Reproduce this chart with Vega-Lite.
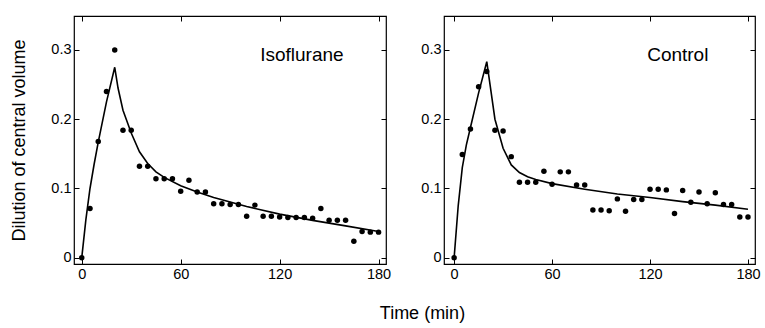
{
  "$schema": "https://vega.github.io/schema/vega-lite/v6.json",
  "background": "white",
  "padding": {"left": 10, "top": 14, "right": 4, "bottom": 5},
  "config": {
    "font": "Liberation Sans",
    "view": {"stroke": "black", "strokeWidth": 1.2},
    "axis": {"grid": false, "domain": false, "ticks": true, "tickColor": "black", "tickSize": -5, "labelFont": "Liberation Sans", "labelFontSize": 14.5, "labelColor": "black", "labelPadding": 8, "titleFont": "Liberation Sans", "titleFontSize": 18, "titleFontWeight": "normal", "titleColor": "black", "titlePadding": 22},
    "concat": {"spacing": 28}
  },
  "title": {"text": "Time (min)", "orient": "bottom", "fontSize": 18, "fontWeight": "normal", "font": "Liberation Sans", "color": "black", "anchor": "middle", "dx": 37, "offset": 24},
  "datasets": {
    "points": [
      {"panel": "Isoflurane", "t": 0, "v": 0}, {"panel": "Isoflurane", "t": 5, "v": 0.071}, {"panel": "Isoflurane", "t": 10, "v": 0.168}, {"panel": "Isoflurane", "t": 15, "v": 0.240}, {"panel": "Isoflurane", "t": 20, "v": 0.300}, {"panel": "Isoflurane", "t": 25, "v": 0.184}, {"panel": "Isoflurane", "t": 30, "v": 0.184}, {"panel": "Isoflurane", "t": 35, "v": 0.132}, {"panel": "Isoflurane", "t": 40, "v": 0.132}, {"panel": "Isoflurane", "t": 45, "v": 0.114}, {"panel": "Isoflurane", "t": 50, "v": 0.114}, {"panel": "Isoflurane", "t": 55, "v": 0.114}, {"panel": "Isoflurane", "t": 60, "v": 0.096}, {"panel": "Isoflurane", "t": 65, "v": 0.112}, {"panel": "Isoflurane", "t": 70, "v": 0.095}, {"panel": "Isoflurane", "t": 75, "v": 0.095}, {"panel": "Isoflurane", "t": 80, "v": 0.078}, {"panel": "Isoflurane", "t": 85, "v": 0.078}, {"panel": "Isoflurane", "t": 90, "v": 0.077}, {"panel": "Isoflurane", "t": 95, "v": 0.077}, {"panel": "Isoflurane", "t": 100, "v": 0.060}, {"panel": "Isoflurane", "t": 105, "v": 0.076}, {"panel": "Isoflurane", "t": 110, "v": 0.060}, {"panel": "Isoflurane", "t": 115, "v": 0.060}, {"panel": "Isoflurane", "t": 120, "v": 0.059}, {"panel": "Isoflurane", "t": 125, "v": 0.058}, {"panel": "Isoflurane", "t": 130, "v": 0.058}, {"panel": "Isoflurane", "t": 135, "v": 0.058}, {"panel": "Isoflurane", "t": 140, "v": 0.057}, {"panel": "Isoflurane", "t": 145, "v": 0.071}, {"panel": "Isoflurane", "t": 150, "v": 0.054}, {"panel": "Isoflurane", "t": 155, "v": 0.054}, {"panel": "Isoflurane", "t": 160, "v": 0.054}, {"panel": "Isoflurane", "t": 165, "v": 0.024}, {"panel": "Isoflurane", "t": 170, "v": 0.038}, {"panel": "Isoflurane", "t": 175, "v": 0.037}, {"panel": "Isoflurane", "t": 180, "v": 0.037},
      {"panel": "Control", "t": 0, "v": 0}, {"panel": "Control", "t": 5, "v": 0.149}, {"panel": "Control", "t": 10, "v": 0.186}, {"panel": "Control", "t": 15, "v": 0.247}, {"panel": "Control", "t": 20, "v": 0.269}, {"panel": "Control", "t": 25, "v": 0.184}, {"panel": "Control", "t": 30, "v": 0.183}, {"panel": "Control", "t": 35, "v": 0.146}, {"panel": "Control", "t": 40, "v": 0.109}, {"panel": "Control", "t": 45, "v": 0.109}, {"panel": "Control", "t": 50, "v": 0.109}, {"panel": "Control", "t": 55, "v": 0.125}, {"panel": "Control", "t": 60, "v": 0.106}, {"panel": "Control", "t": 65, "v": 0.124}, {"panel": "Control", "t": 70, "v": 0.124}, {"panel": "Control", "t": 75, "v": 0.105}, {"panel": "Control", "t": 80, "v": 0.105}, {"panel": "Control", "t": 85, "v": 0.069}, {"panel": "Control", "t": 90, "v": 0.069}, {"panel": "Control", "t": 95, "v": 0.068}, {"panel": "Control", "t": 100, "v": 0.085}, {"panel": "Control", "t": 105, "v": 0.067}, {"panel": "Control", "t": 110, "v": 0.084}, {"panel": "Control", "t": 115, "v": 0.084}, {"panel": "Control", "t": 120, "v": 0.099}, {"panel": "Control", "t": 125, "v": 0.099}, {"panel": "Control", "t": 130, "v": 0.098}, {"panel": "Control", "t": 135, "v": 0.064}, {"panel": "Control", "t": 140, "v": 0.097}, {"panel": "Control", "t": 145, "v": 0.080}, {"panel": "Control", "t": 150, "v": 0.095}, {"panel": "Control", "t": 155, "v": 0.078}, {"panel": "Control", "t": 160, "v": 0.094}, {"panel": "Control", "t": 165, "v": 0.077}, {"panel": "Control", "t": 170, "v": 0.077}, {"panel": "Control", "t": 175, "v": 0.059}, {"panel": "Control", "t": 180, "v": 0.059}
    ],
    "fit": [
      {"panel": "Isoflurane", "t": 0, "v": 0}, {"panel": "Isoflurane", "t": 2.5, "v": 0.055}, {"panel": "Isoflurane", "t": 5, "v": 0.1}, {"panel": "Isoflurane", "t": 7.5, "v": 0.135}, {"panel": "Isoflurane", "t": 10, "v": 0.167}, {"panel": "Isoflurane", "t": 15, "v": 0.225}, {"panel": "Isoflurane", "t": 20, "v": 0.275}, {"panel": "Isoflurane", "t": 22, "v": 0.245}, {"panel": "Isoflurane", "t": 25, "v": 0.213}, {"panel": "Isoflurane", "t": 30, "v": 0.18}, {"panel": "Isoflurane", "t": 35, "v": 0.153}, {"panel": "Isoflurane", "t": 40, "v": 0.136}, {"panel": "Isoflurane", "t": 45, "v": 0.124}, {"panel": "Isoflurane", "t": 50, "v": 0.116}, {"panel": "Isoflurane", "t": 60, "v": 0.104}, {"panel": "Isoflurane", "t": 70, "v": 0.095}, {"panel": "Isoflurane", "t": 80, "v": 0.087}, {"panel": "Isoflurane", "t": 100, "v": 0.074}, {"panel": "Isoflurane", "t": 120, "v": 0.063}, {"panel": "Isoflurane", "t": 140, "v": 0.054}, {"panel": "Isoflurane", "t": 160, "v": 0.046}, {"panel": "Isoflurane", "t": 180, "v": 0.038},
      {"panel": "Control", "t": 0, "v": 0}, {"panel": "Control", "t": 2.5, "v": 0.075}, {"panel": "Control", "t": 5, "v": 0.13}, {"panel": "Control", "t": 7.5, "v": 0.163}, {"panel": "Control", "t": 10, "v": 0.188}, {"panel": "Control", "t": 15, "v": 0.238}, {"panel": "Control", "t": 20, "v": 0.283}, {"panel": "Control", "t": 22, "v": 0.25}, {"panel": "Control", "t": 25, "v": 0.2}, {"panel": "Control", "t": 30, "v": 0.158}, {"panel": "Control", "t": 35, "v": 0.134}, {"panel": "Control", "t": 40, "v": 0.123}, {"panel": "Control", "t": 45, "v": 0.117}, {"panel": "Control", "t": 50, "v": 0.113}, {"panel": "Control", "t": 60, "v": 0.107}, {"panel": "Control", "t": 80, "v": 0.099}, {"panel": "Control", "t": 100, "v": 0.092}, {"panel": "Control", "t": 120, "v": 0.087}, {"panel": "Control", "t": 140, "v": 0.081}, {"panel": "Control", "t": 160, "v": 0.076}, {"panel": "Control", "t": 180, "v": 0.070}
    ],
    "labels": [
      {"panel": "Isoflurane", "t": 133.5, "v": 0.292},
      {"panel": "Control", "t": 137, "v": 0.292}
    ]
  },
  "hconcat": [
    {
      "width": 312, "height": 248,
      "layer": [
        {
          "data": {"name": "points"},
          "transform": [{"filter": "datum.panel == 'Isoflurane'"}],
          "mark": {"type": "circle", "size": 30, "color": "black", "opacity": 1},
          "encoding": {
            "x": {"field": "t", "type": "quantitative", "scale": {"domain": [-4.7, 184.5], "nice": false, "zero": false}, "axis": {"values": [0, 60, 120, 180], "title": null}},
            "y": {"field": "v", "type": "quantitative", "scale": {"domain": [-0.009, 0.349], "nice": false}, "axis": {"values": [0, 0.1, 0.2, 0.3], "format": "~g", "title": "Dilution of central volume"}}
          }
        },
        {
          "data": {"name": "fit"},
          "transform": [{"filter": "datum.panel == 'Isoflurane'"}],
          "mark": {"type": "line", "color": "black", "strokeWidth": 1.6},
          "encoding": {
            "x": {"field": "t", "type": "quantitative", "axis": {"orient": "top", "labels": false, "values": [0, 60, 120, 180], "title": null}},
            "y": {"field": "v", "type": "quantitative", "axis": {"orient": "right", "labels": false, "values": [0, 0.1, 0.2, 0.3], "title": null}}
          }
        },
        {
          "data": {"name": "labels"},
          "transform": [{"filter": "datum.panel == 'Isoflurane'"}],
          "mark": {"type": "text", "fontSize": 19, "font": "Liberation Sans", "color": "black"},
          "encoding": {
            "x": {"field": "t", "type": "quantitative", "axis": null},
            "y": {"field": "v", "type": "quantitative", "axis": null},
            "text": {"field": "panel"}
          }
        }
      ],
      "resolve": {"axis": {"x": "independent", "y": "independent"}}
    },
    {
      "width": 311, "height": 248,
      "layer": [
        {
          "data": {"name": "points"},
          "transform": [{"filter": "datum.panel == 'Control'"}],
          "mark": {"type": "circle", "size": 30, "color": "black", "opacity": 1},
          "encoding": {
            "x": {"field": "t", "type": "quantitative", "scale": {"domain": [-6.2, 184.3], "nice": false, "zero": false}, "axis": {"values": [0, 60, 120, 180], "title": null}},
            "y": {"field": "v", "type": "quantitative", "scale": {"domain": [-0.009, 0.349], "nice": false}, "axis": {"values": [0, 0.1, 0.2, 0.3], "format": "~g", "title": null}}
          }
        },
        {
          "data": {"name": "fit"},
          "transform": [{"filter": "datum.panel == 'Control'"}],
          "mark": {"type": "line", "color": "black", "strokeWidth": 1.6},
          "encoding": {
            "x": {"field": "t", "type": "quantitative", "axis": {"orient": "top", "labels": false, "values": [0, 60, 120, 180], "title": null}},
            "y": {"field": "v", "type": "quantitative", "axis": {"orient": "right", "labels": false, "values": [0, 0.1, 0.2, 0.3], "title": null}}
          }
        },
        {
          "data": {"name": "labels"},
          "transform": [{"filter": "datum.panel == 'Control'"}],
          "mark": {"type": "text", "fontSize": 19, "font": "Liberation Sans", "color": "black"},
          "encoding": {
            "x": {"field": "t", "type": "quantitative", "axis": null},
            "y": {"field": "v", "type": "quantitative", "axis": null},
            "text": {"field": "panel"}
          }
        }
      ],
      "resolve": {"axis": {"x": "independent", "y": "independent"}}
    }
  ]
}
